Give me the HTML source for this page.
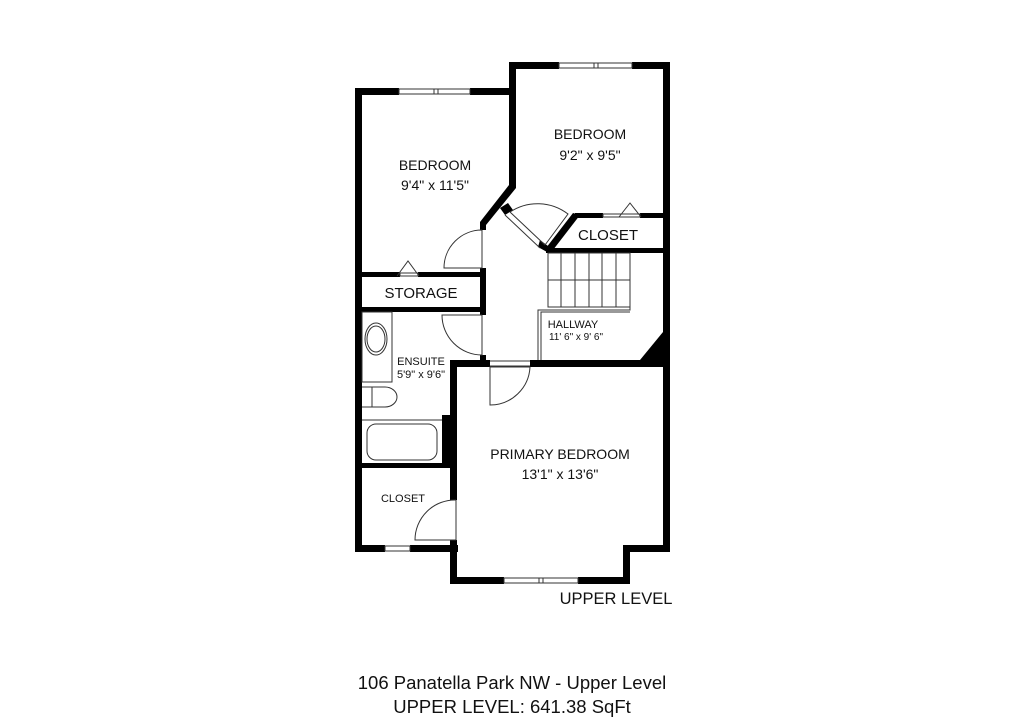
<!DOCTYPE html>
<html><head><meta charset="utf-8"><style>
html,body{margin:0;padding:0;background:#fff;width:1024px;height:724px;overflow:hidden}
svg{display:block}
text{font-family:"Liberation Sans","DejaVu Sans",sans-serif;fill:#111}
</style></head><body>
<svg width="1024" height="724" viewBox="0 0 1024 724" xmlns="http://www.w3.org/2000/svg">
<g fill="#000" stroke="none">
<rect x="355" y="88" width="44" height="7"/>
<rect x="470" y="88" width="46" height="7"/>
<rect x="355" y="88" width="7" height="464"/>
<rect x="355" y="545" width="30" height="7"/>
<rect x="410" y="545" width="48" height="7"/>
<rect x="509" y="62" width="50" height="7"/>
<rect x="632" y="62" width="38" height="7"/>
<rect x="663" y="62" width="7" height="490"/>
<rect x="623" y="545" width="47" height="7"/>
<rect x="623" y="545" width="7" height="38"/>
<rect x="450" y="577" width="54" height="7"/>
<rect x="578" y="577" width="52" height="7"/>
<rect x="450" y="360" width="7" height="140"/>
<rect x="450" y="540" width="7" height="44"/>
<rect x="509" y="62" width="7" height="126"/>
<polygon points="509,185 516,188 486,225 480,222"/>
<rect x="480" y="222" width="6" height="8"/>
<rect x="480" y="268" width="6" height="47"/>
<rect x="480" y="355" width="6" height="12"/>
<rect x="362" y="272" width="38" height="5"/>
<rect x="418" y="272" width="64" height="5"/>
<rect x="362" y="307" width="120" height="5"/>
<rect x="362" y="463" width="95" height="5"/>
<rect x="442" y="415" width="15" height="50"/>
<rect x="450" y="360" width="40" height="7"/>
<rect x="530" y="360" width="136" height="7"/>
<polygon points="640,360 663,332 663,362"/>
<rect x="575" y="213" width="28" height="5"/>
<rect x="640" y="213" width="26" height="5"/>
<polygon points="573,213 580,215 553,250 546,248"/>
<rect x="546" y="248" width="120" height="5"/>
<polygon points="500,208 508,203 513,210 505,215"/>
<polygon points="540,240 548,246 547,252 538,247"/>
</g>
<g fill="none" stroke="#333" stroke-width="1">
<rect x="399" y="89" width="71" height="5"/><line x1="434" y1="89" x2="434" y2="94"/><line x1="438" y1="89" x2="438" y2="94"/>
<rect x="559" y="63" width="73" height="5"/><line x1="594" y1="63" x2="594" y2="68"/><line x1="598" y1="63" x2="598" y2="68"/>
<rect x="385" y="546" width="25" height="5"/>
<rect x="504" y="578" width="74" height="5"/><line x1="539" y1="578" x2="539" y2="583"/><line x1="543" y1="578" x2="543" y2="583"/>
<line x1="510" y1="212" x2="545" y2="245"/><line x1="505" y1="215" x2="540" y2="248"/>
<path d="M510,212 A50,50 0 0 1 568,214 L545,245"/>
<path d="M482,230 L482,268 L444,268 A38,38 0 0 1 482,230"/>
<path d="M482,315 L482,355 A40,40 0 0 1 442,315 L482,315"/>
<path d="M490,367 L530,367 L530,367 A40,40 0 0 1 490,405 Z"/>
<line x1="490" y1="361" x2="530" y2="361"/><line x1="490" y1="366" x2="530" y2="366"/>
<path d="M456,500 L456,540 L415,540 A40,40 0 0 1 456,500"/>
<polyline points="397,276 408,261 419,276"/>
<rect x="400" y="273" width="18" height="3"/>
<polyline points="619,217 630,203 641,217"/>
<rect x="603" y="214" width="37" height="3"/>
<rect x="548" y="253" width="82" height="54"/>
<line x1="561" y1="253" x2="561" y2="307"/><line x1="575" y1="253" x2="575" y2="307"/>
<line x1="589" y1="253" x2="589" y2="307"/><line x1="602" y1="253" x2="602" y2="307"/>
<line x1="616" y1="253" x2="616" y2="307"/>
<line x1="548" y1="280" x2="630" y2="280"/>
<polyline points="630,307 630,310 538,310 538,360"/>
<polyline points="630,312 541,312 541,360"/>
<rect x="362" y="312" width="30" height="70"/>
<ellipse cx="376" cy="339" rx="11" ry="16"/>
<ellipse cx="376" cy="339" rx="9" ry="13"/>
<line x1="392" y1="312" x2="392" y2="382"/>
<path d="M362,387 L385,387 A12,10 0 0 1 385,407 L362,407"/>
<line x1="372" y1="387" x2="372" y2="407"/>
<line x1="362" y1="420" x2="442" y2="420"/>
<rect x="367" y="424" width="70" height="36" rx="9"/>
</g>
<g font-size="14" text-anchor="middle">
<text x="435" y="170">BEDROOM</text>
<text x="435" y="190">9'4" x 11'5"</text>
<text x="590" y="139">BEDROOM</text>
<text x="590" y="160">9'2" x 9'5"</text>
<text x="608" y="240" font-size="15">CLOSET</text>
<text x="421" y="298" font-size="15">STORAGE</text>
<text x="573" y="328" font-size="11">HALLWAY</text>
<text x="576" y="340" font-size="10">11' 6" x 9' 6"</text>
<text x="421" y="365" font-size="11">ENSUITE</text>
<text x="421" y="378" font-size="11">5'9" x 9'6"</text>
<text x="403" y="502" font-size="11">CLOSET</text>
<text x="560" y="459">PRIMARY BEDROOM</text>
<text x="560" y="479">13'1" x 13'6"</text>
<text x="616" y="604" font-size="16.5">UPPER LEVEL</text>
<text x="512" y="689" font-size="18.5">106 Panatella Park NW - Upper Level</text>
<text x="512" y="713" font-size="18.5">UPPER LEVEL:  641.38 SqFt</text>
</g>
</svg>
</body></html>
